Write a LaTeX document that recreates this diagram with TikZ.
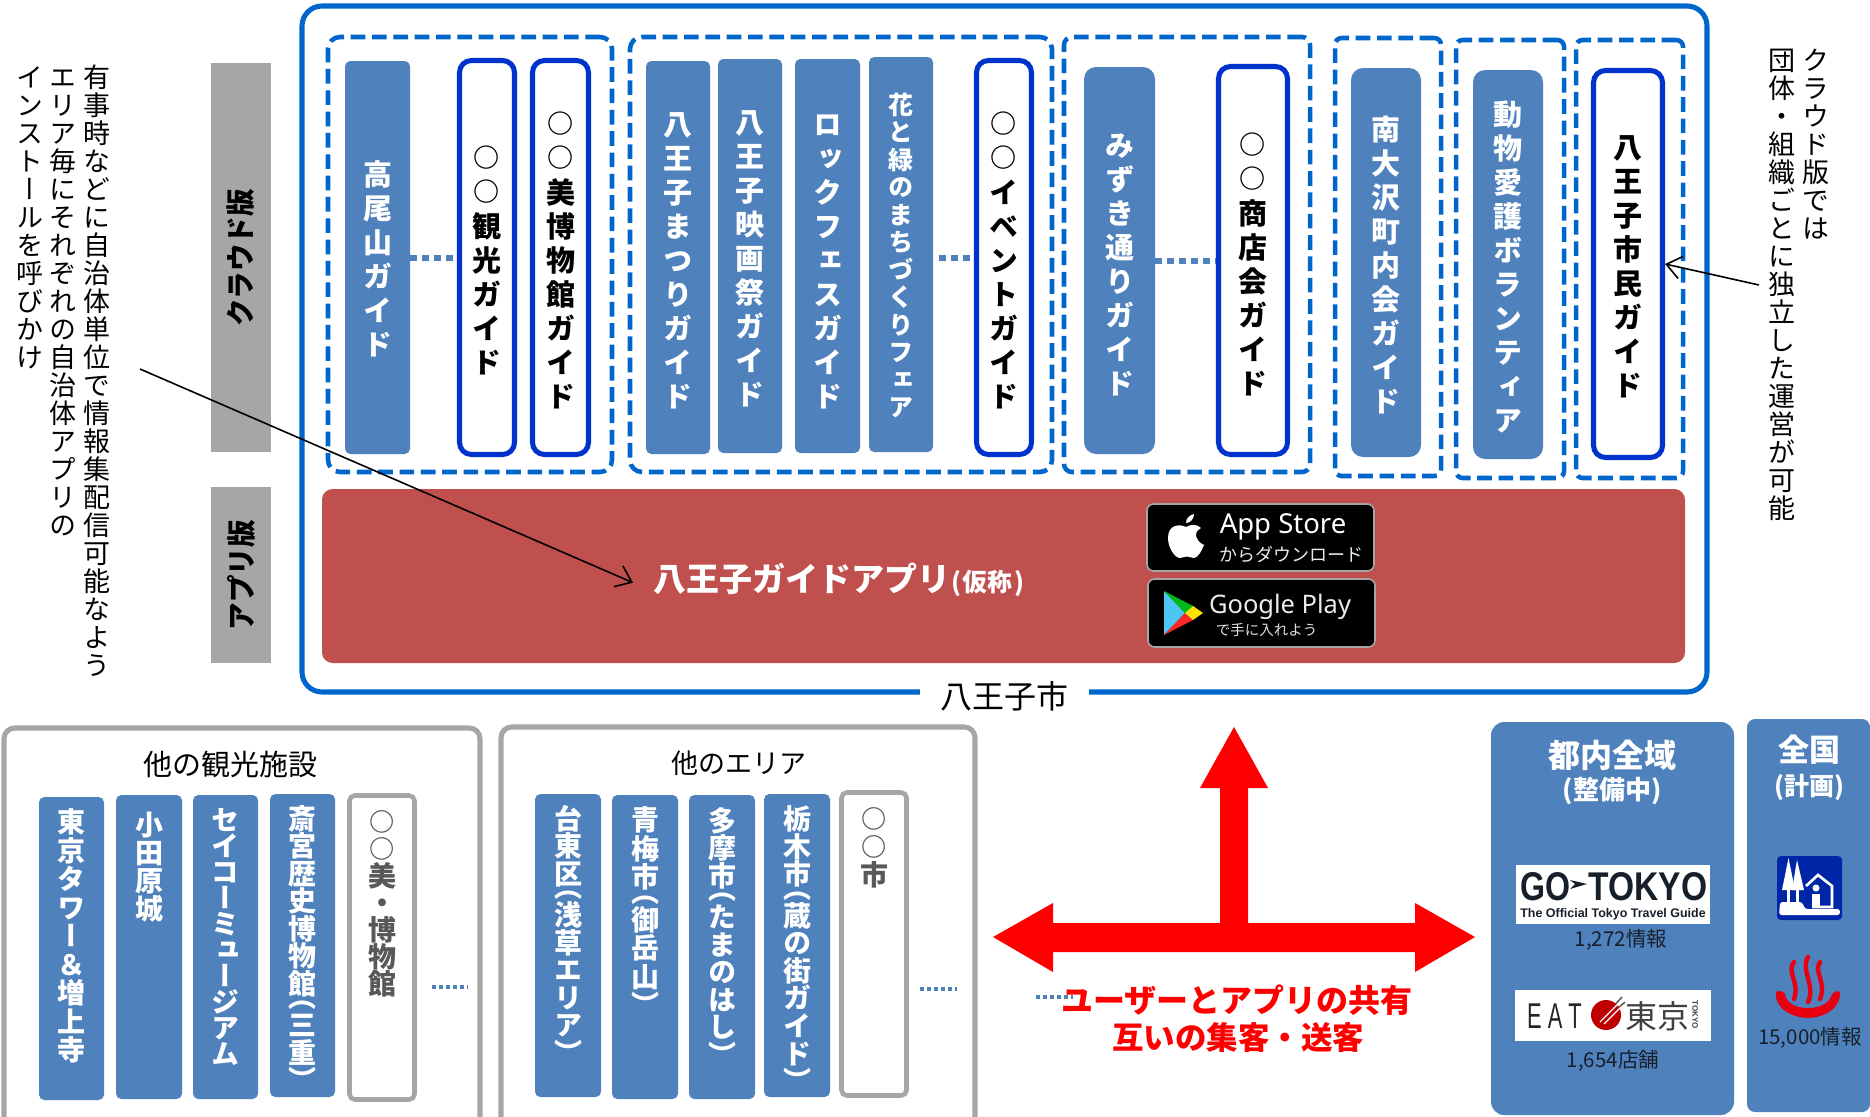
\documentclass[tikz,border=0pt]{standalone}
\usepackage{fontspec}
\usepackage{graphicx}
\usetikzlibrary{arrows.meta,calc}
\setmainfont{Noto Sans CJK JP}
\newfontfamily\jpv[RawFeature=+vert]{Noto Sans CJK JP}
\newfontfamily\lat{Liberation Sans}
\newfontfamily\nts{Noto Sans}
\newcommand\fs[1]{\fontsize{\fpeval{#1*.75}}{\fpeval{#1*.9}}\selectfont}
\ExplSyntaxOn
\dim_new:N \l_vt_pitch_dim
\cs_new:Npn \vt_glyph:n #1 {\hbox~to~0pt{\hss\vrule~height~.88em~depth~.12em~width~0pt\relax #1\hss}}
\NewDocumentCommand\vt{mm}{
  \vbox{\offinterlineskip\jpv
    \dim_set:Nn \l_vt_pitch_dim {#1pt*3/4}
    \tl_map_inline:nn {#2}{
      \str_case:nnF {##1}{
        {（}{\vbox~to~.5\l_vt_pitch_dim{\vss\vt_glyph:n{##1}\kern0pt}}
        {）}{\vbox~to~.5\l_vt_pitch_dim{\vt_glyph:n{##1}\vss\kern0pt}}
        {○}{\vbox~to~\l_vt_pitch_dim{\vss\vt_glyph:n{\raisebox{.038em}{\scalebox{.9}{##1}}}\vss\kern0pt}}
      }{\vbox~to~\l_vt_pitch_dim{\vss\vt_glyph:n{##1}\vss\kern0pt}}
    }
  }
}
\ExplSyntaxOff
% style, name, (x1,y1,x2,y2), text top y, text
\def\bx#1#2(#3,#4,#5,#6)#7#8{%
  \pgfmathsetmacro\bxw{(#5-#3)*.75}\pgfmathsetmacro\bxh{(#6-#4)*.75}\pgfmathsetmacro\bxg{(#7-#4)*.75}%
  \node[#1,minimum width=\bxw pt,minimum height=\bxh pt,inner sep=0pt] (#2) at ({(#3+#5)/2},{(#4+#6)/2})
    {\vbox to \bxh pt{\kern\bxg pt #8\vss}};}
\definecolor{gblue}{HTML}{4F81BD}
\definecolor{frame}{HTML}{0066CC}
\definecolor{obl}{HTML}{0033CC}
\definecolor{gr}{HTML}{A6A6A6}
\definecolor{redbar}{HTML}{C0504D}
\definecolor{dk}{HTML}{17202A}
\definecolor{oncol}{HTML}{E60012}
\tikzset{
  guide/.style={fill=gblue,rounded corners=4pt,text=white,font=\fs{29}\bfseries},
  guidetall/.style={guide,rounded corners=9pt},
  guidesm/.style={fill=gblue,rounded corners=4pt,text=white,font=\fs{28}\bfseries},
  guidexs/.style={guide,font=\fs{25}\bfseries},
  outl/.style={draw=obl,line width=3.8pt,fill=white,rounded corners=9pt,text=black,font=\fs{29}\bfseries},
  graybox/.style={draw=gr,line width=3.4pt,fill=white,rounded corners=4pt,text=black!65,font=\fs{28}\bfseries},
  grp/.style={draw=frame,line width=3.4pt,dash pattern=on 11pt off 5pt,rounded corners=#1},
  grp/.default=9pt,
  dots/.style={draw=gblue,line width=4.5pt,dash pattern=on 5pt off 4pt},
  minidots/.style={draw=gblue,line width=3pt,dash pattern=on 3pt off 2.2pt},
  tag/.style={fill=gr,inner sep=0pt},
  tagtxt/.style={rotate=90,inner sep=0pt,font=\fs{29}\bfseries},
  note/.style={inner sep=0pt,anchor=north,font=\fs{27}},
  callout/.style={draw=black,line width=1.2pt,-{Straight Barb[length=11pt,width=17pt]}},
  store/.style={fill=black,draw=gr,line width=1.2pt,rounded corners=5pt,inner sep=0pt},
  panel/.style={draw=gr,line width=3.8pt,rounded corners=8pt},
  side/.style={fill=gblue,inner sep=0pt},
  wtxt/.style={text=white,inner sep=0pt},
  logo/.style={fill=white,inner sep=0pt},
}
\begin{document}
\begin{tikzpicture}[x=.75pt,y=-.75pt]
\useasboundingbox (0,0) rectangle (1870,1117);
% outer frame
\bx{draw=frame,line width=3.8pt,rounded corners=15pt}{city}(302,6,1707,692){0}{}
\node[fill=white,inner sep=0pt,minimum width=127pt,minimum height=30pt,font=\fs{32}] (cityl) at (city.south) [yshift=-1pt] {八王子市};
% tags
\bx{tag}{tagc}(211,63,271,452){0}{}
\node[tagtxt] (tagct) at (241,258) {\scalebox{.95}[1]{クラウド版}};
\bx{tag}{taga}(211,487,271,663){0}{}
\node[tagtxt] (tagat) at (241,575) {\scalebox{.95}[1]{アプリ版}};
% dashed groups
\bx{grp}{g1}(328,37,612,472){0}{}
\bx{grp}{g2}(630,37,1052,472){0}{}
\bx{grp=6pt}{g3}(1064,37,1310,472){0}{}
\bx{grp=5pt}{g4}(1335,38,1441,476){0}{}
\bx{grp=5pt}{g5}(1456,40,1564,478){0}{}
\bx{grp=5pt}{g6}(1576,40,1683,478){0}{}
% guides
\bx{guide}{taka}(345,61,410,454){157}{\vt{34}{高尾山ガイド}}
\bx{outl}{kanko}(459.5,60.5,514.5,454.5){141}{\vt{34}{○○観光ガイド}}
\bx{outl}{bihaku}(532.5,60.5,588.5,454.5){107}{\vt{34}{○○美博物館ガイド}}
\bx{guide}{matsuri}(646,61,710,454){107}{\vt{34}{八王子まつりガイド}}
\bx{guide}{eiga}(718,59,782,453){105}{\vt{34}{八王子映画祭ガイド}}
\bx{guide}{rock}(795,59,860,453){107}{\vt{34}{ロックフェスガイド}}
\bx{guidexs}{hana}(869,57,933,452){91}{\vt{27.5}{花と緑のまちづくりフェア}}
\bx{outl}{event}(976.5,60.5,1031.5,454.5){107}{\vt{34}{○○イベントガイド}}
\bx{guidetall}{mizuki}(1084,67,1155,454){128}{\vt{34}{みずき通りガイド}}
\bx{outl}{shoten}(1218.5,66.5,1287.5,454.5){128}{\vt{34}{○○商店会ガイド}}
\bx{guidetall}{minami}(1351,68,1421,457){112}{\vt{34}{南大沢町内会ガイド}}
\bx{guidetall}{doubutsu}(1473,70,1543,459){97}{\vt{34}{動物愛護ボランティア}}
\bx{outl}{shimin}(1593.5,70.5,1662.5,457.5){130}{\vt{34}{八王子市民ガイド}}
\draw[dots] (taka.east) -- (kanko.west);
\draw[dots,shorten <=4.5pt] (hana.east |- event.west) -- (event.west);
\draw[dots] (mizuki.east) -- (shoten.west);
% app bar
\bx{fill=redbar,rounded corners=8pt}{app}(322,489,1685,663){0}{}
\node[wtxt,font=\fs{33}\bfseries,anchor=west] (title) at (653,580) {八王子ガイドアプリ{\fs{25}\hspace{1pt}(\hspace{1pt}仮称\hspace{1pt})}};
\bx{store}{astore}(1147,504,1374,571){0}{}
\bx{store}{gplay}(1148,579,1375,647){0}{}
\fill[white] (1186,527) .. controls (1180,524) and (1168,524) .. (1168,538) .. controls (1168,548) and (1175,558) .. (1180,558) .. controls (1183,558) and (1184,556.5) .. (1187,556.5) .. controls (1190,556.5) and (1191,558) .. (1194,558) .. controls (1198,558) and (1202,550) .. (1204,545) .. controls (1199,543) and (1196,538) .. (1196,535) .. controls (1196,531) and (1199,529) .. (1201,528) .. controls (1197,524) and (1191,524) .. (1186,527) -- cycle;
\fill[white] (1186,523) .. controls (1186,518) and (1190,515) .. (1194,514) .. controls (1194,519) and (1190,523) .. (1186,523) -- cycle;
\node[wtxt,font=\nts\fs{27.5}] (astxt) at (1283,527) {App Store};
\node[wtxt,font=\fs{18},text=white!92!black] (asjp) at (1291,554) {からダウンロード};
\fill[cyan!70!white] (1164,591) -- (1185,613) -- (1164,635) -- cycle;
\fill[green!70!black!90!cyan] (1164,591) -- (1193,606) -- (1185,613) -- cycle;
\fill[red!85!white] (1164,635) -- (1193,620) -- (1185,613) -- cycle;
\fill[yellow!85!orange] (1193,606) -- (1203,613) -- (1193,620) -- (1185,613) -- cycle;
\node[wtxt,font=\nts\fs{25.5},text=white!92!black] (gptxt) at (1280,607) {Google Play};
\node[wtxt,font=\fs{14.5},text=white!88!black] (gpjp) at (1266.5,630) {で手に入れよう};
% side notes
\node[note] (n1) at (97,63) {\vt{28}{有事時などに自治体単位で情報集配信可能なよう}};
\node[note] (n2) at (63,63) {\vt{28}{エリア毎にそれぞれの自治体アプリの}};
\node[note] (n3) at (30,63) {\vt{28}{インストールを呼びかけ}};
\node[note] (n4) at (1816,46) {\vt{28}{クラウド版では}};
\node[note] (n5) at (1782,46) {\vt{28}{団体・組織ごとに独立した運営が可能}};
\coordinate (c1) at (140,369);
\coordinate (c2) at (1759,285);
\draw[callout] (c1) -- ([xshift=-15pt,yshift=-2pt]title.west);
\draw[callout] (c2) -- (shimin.east);
% panel 1
\draw[panel] (4,1117) -- (4,728) -- (480,728) -- (480,1117);
\node[inner sep=0pt,font=\fs{29}] (p1t) at (230,764) {他の観光施設};
\bx{guidesm}{tokyo}(39,797,104,1100){808}{\vt{28.5}{東京タワー＆増上寺}}
\bx{guidesm}{odawara}(116,795,182,1099){811}{\vt{28}{小田原城}}
\bx{guidesm}{seiko}(193,795,258,1099){807}{\vt{26}{セイコーミュージアム}}
\bx{guidesm}{saigu}(270,794,335,1097){805}{\vt{27.5}{斎宮歴史博物館（三重）}}
\bx{graybox}{maru}(349.5,795.5,414.5,1099.5){808}{\vt{27}{○○美・博物館}}
\coordinate (d1a) at (432,987); \coordinate (d1b) at (468,987);
\draw[minidots] (d1a) -- (d1b);
% panel 2
\draw[panel] (975,1117) -- (975,727) -- (501,727) -- (501,1117);
\node[inner sep=0pt,font=\fs{27}] (p2t) at (739,763) {他のエリア};
\bx{guidesm}{taito}(535,794,601,1097){805}{\vt{27.5}{台東区（浅草エリア）}}
\bx{guidesm}{ome}(612,795,678,1099){806}{\vt{28.4}{青梅市（御岳山）}}
\bx{guidesm}{tama}(689,795,755,1099){807}{\vt{27.5}{多摩市（たまのはし）}}
\bx{guidesm}{tochigi}(764,794,830,1097){805}{\vt{27.6}{栃木市（蔵の街ガイド）}}
\bx{graybox}{marushi}(841.5,792.5,906.5,1095.5){805}{\vt{28}{○○市}}
\coordinate (d2a) at (920,989); \coordinate (d2b) at (957,989);
\draw[minidots] (d2a) -- (d2b);
% red arrows
\fill[red] (1234,727) -- (1268,788) -- (1248,788) -- (1248,923) -- (1415,923) -- (1415,903) -- (1475,937) -- (1415,972) -- (1415,952) -- (1053,952) -- (1053,972) -- (993,937) -- (1053,903) -- (1053,923) -- (1220,923) -- (1220,788) -- (1200,788) -- cycle;
\coordinate (d3a) at (1036,997); \coordinate (d3b) at (1073,997);
\draw[minidots] (d3a) -- (d3b);
\node[inner sep=0pt,text=red,font=\fs{32}\bfseries] (r1) at (1237,1000) {ユーザーとアプリの共有};
\node[inner sep=0pt,text=red,font=\fs{31.5}\bfseries] (r2) at (1238,1038) {互いの集客・送客};
% right panels
\bx{side,rounded corners=10pt}{tonai}(1491,722,1734,1115){0}{}
\node[wtxt,font=\fs{32}\bfseries] (tt) at (1612,755) {都内全域};
\node[wtxt,font=\fs{26}\bfseries] (tt2) at (1612,791) {(整備中)};
\bx{logo}{gotk}(1516,865,1710,924){0}{}
\node[inner sep=0pt,text=dk,font=\lat\bfseries] (gotk1) at (1545,887) {\resizebox{37.5pt}{21pt}{GO}};
\fill[dk] (1570,880) -- (1587,884) -- (1570,889) -- (1575,884) -- cycle;
\node[inner sep=0pt,text=dk,font=\lat\bfseries] (gotk2) at (1648,887) {\resizebox{89pt}{21pt}{TOKYO}};
\node[inner sep=0pt,text=dk,font=\lat\bfseries] (gotk3) at (1613,914) {\resizebox{139pt}{!}{The Official Tokyo Travel Guide}};
\node[inner sep=0pt,text=dk,font=\fs{20.5}] (tn1) at (1621,940) {1,272情報};
\bx{logo}{eat}(1515,990,1711,1041){0}{}
\node[inner sep=0pt,text=black!85,font=\lat] (eat1) at (1554.5,1016) {\resizebox{41pt}{18.5pt}{E A T}};
\draw[black!70,line width=1pt] (1610,1010) -- (1622,997);
\draw[black!70,line width=1pt] (1612,1013) -- (1625,1002);
\fill[red!75!black] (1606,1015) circle[radius=15];
\draw[white,line width=1pt] (1600,1022) -- (1618,1004);
\draw[white,line width=1pt] (1604,1024) -- (1620,1008);
\node[inner sep=0pt,text=black!75,font=\fs{32}] (eat2) at (1657.5,1016) {東京};
\node[inner sep=0pt,rotate=-90,text=black!75,font=\lat\bfseries\fs{8}] (eat3) at (1695,1015) {TOKYO};
\node[inner sep=0pt,text=dk,font=\fs{20.5}] (tn2) at (1613,1061) {1,654店舗};
\bx{side,rounded corners=6pt}{zenkoku}(1747,719,1870,1112){0}{}
\node[wtxt,font=\fs{31}\bfseries] (zt) at (1809,750) {全国};
\node[wtxt,font=\fs{25}\bfseries] (zt2) at (1809,787) {(計画)};
\bx{fill=blue!60!black!85!cyan,rounded corners=3pt}{camp}(1777,856,1842,920){0}{}
\fill[white] (1788.5,858) -- (1795,890) -- (1782,890) -- cycle;
\fill[white] (1797,860) -- (1804,890) -- (1792,890) -- cycle;
\fill[white] (1787,890) rectangle (1790,902);
\fill[white] (1796,890) rectangle (1799,902);
\draw[white,line width=2pt,line join=miter] (1806,886) -- (1818,875) -- (1832,886) -- (1832,907) -- (1812,907);
\fill[white] (1816,888) circle[radius=3.5];
\fill[white] (1812,894) rectangle (1820,908);
\fill[white,rounded corners=2pt] (1780,902) -- (1802,902) -- (1805,909) -- (1840,909) -- (1840,915) -- (1779,915) -- cycle;
% onsen
\fill[oncol] (1776,992) .. controls (1774,1010) and (1795,1018) .. (1808,1018) .. controls (1821,1018) and (1841,1010) .. (1840,992) .. controls (1837,990) and (1834,992) .. (1832,994) .. controls (1830,1003) and (1820,1008) .. (1808,1008) .. controls (1796,1008) and (1786,1003) .. (1785,994) .. controls (1783,991) and (1779,990) .. (1776,992) -- cycle;
\draw[oncol,line width=3.3pt,line cap=round] (1794,962) .. controls (1786,972) and (1800,982) .. (1794,999);
\draw[oncol,line width=3.3pt,line cap=round] (1808,957) .. controls (1800,970) and (1816,985) .. (1808,1002);
\draw[oncol,line width=3.3pt,line cap=round] (1820,962) .. controls (1813,972) and (1827,982) .. (1820,999);
\node[inner sep=0pt,text=dk,font=\fs{20.5}] (zn) at (1810,1038) {15,000情報};
\end{tikzpicture}
\end{document}
